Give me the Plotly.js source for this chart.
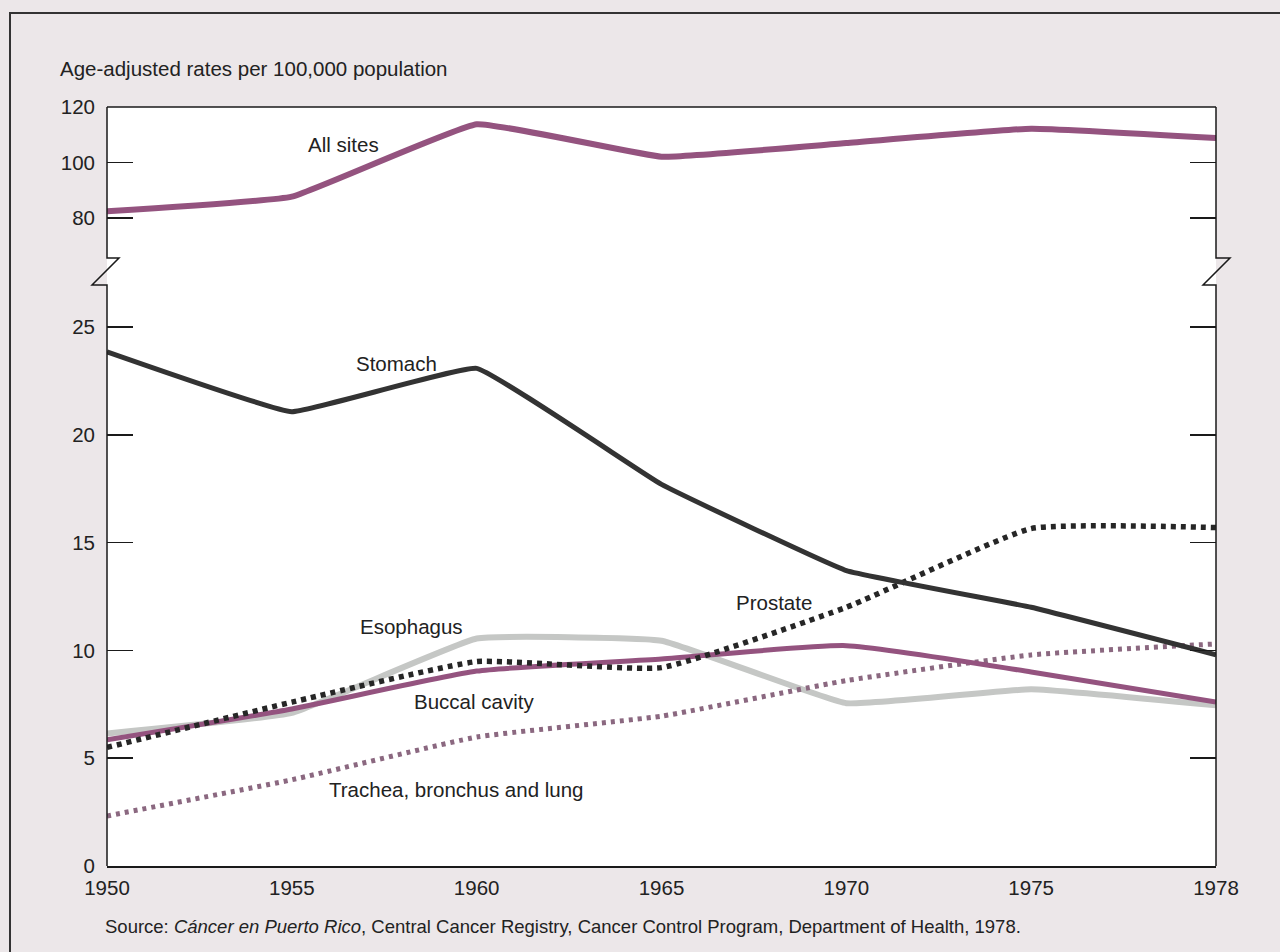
<!DOCTYPE html>
<html>
<head>
<meta charset="utf-8">
<script src="https://cdn.plot.ly/plotly-3.0.1.min.js"></script>
<style>html,body{margin:0;padding:0;background:#ece7e9;}#chart{width:1280px;height:952px;}</style>
</head>
<body>
<div id="chart"></div>
<script>
// ---- data ----
const years = ['1950', '1955', '1960', '1965', '1970', '1975', '1978'];
const allSites = [82.4, 87.7, 113.8, 102.1, 107.0, 112.2, 108.8];
const stomach = [23.85, 21.07, 23.08, 17.7, 13.7, 12.0, 9.8];
const prostate = [5.5, 7.6, 9.48, 9.2, 12.0, 15.65, 15.7];
const esophagus = [6.15, 7.1, 10.55, 10.45, 7.55, 8.2, 7.45];
const buccal = [5.85, 7.28, 9.04, 9.6, 10.22, 9.0, 7.6];
const trachea = [2.32, 4.0, 5.98, 6.95, 8.6, 9.79, 10.3];
const yTicksLow = [0, 5, 10, 15, 20, 25];
const yTicksHigh = [80, 100, 120];
const seriesLabels = ['All sites', 'Stomach', 'Esophagus', 'Prostate', 'Buccal cavity', 'Trachea, bronchus and lung'];

const MAUVE = '#94537f';
const FONT = '"Liberation Sans", Arial, Helvetica, sans-serif';

const traces = [
  {x: years, y: esophagus, yaxis: 'y', mode: 'lines', name: seriesLabels[2],
   line: {color: '#c5c7c5', width: 6, shape: 'spline', smoothing: 0.3}},
  {x: years, y: trachea, yaxis: 'y', mode: 'lines', name: seriesLabels[5],
   line: {color: '#8b6880', width: 5, dash: '4px,5px', shape: 'spline', smoothing: 0.4}},
  {x: years, y: buccal, yaxis: 'y', mode: 'lines', name: seriesLabels[4],
   line: {color: MAUVE, width: 5, shape: 'spline', smoothing: 0.5}},
  {x: years, y: prostate, yaxis: 'y', mode: 'lines', name: seriesLabels[3],
   line: {color: '#262626', width: 5.5, dash: '5px,5px', shape: 'spline', smoothing: 0.4}},
  {x: years, y: stomach, yaxis: 'y', mode: 'lines', name: seriesLabels[1],
   line: {color: '#333333', width: 5, shape: 'spline', smoothing: 0.25}},
  {x: years, y: allSites, yaxis: 'y2', mode: 'lines', name: seriesLabels[0],
   line: {color: MAUVE, width: 6, shape: 'spline', smoothing: 0.3}}
];

// pixel -> paper helpers for layout positions (plot area 107..1216 x, 107..866 y)
const px = v => (v - 107) / 1109;
const py = v => (866 - v) / 759;
const BREAK = py(272);

const frameLine = {color: '#1a1a1a', width: 1.5};
const shapes = [
  // top border
  {type: 'line', xref: 'paper', yref: 'paper', x0: 0, x1: 1, y0: 1, y1: 1, line: frameLine},
  // left border with break
  {type: 'path', xref: 'paper', yref: 'paper', line: frameLine,
   path: `M 0,0 L 0,${py(285)} L ${px(92)},${py(285)} L ${px(119)},${py(258)} L 0,${py(258)} L 0,1`},
  // right border with break
  {type: 'path', xref: 'paper', yref: 'paper', line: frameLine,
   path: `M 1,0 L 1,${py(285)} L ${px(1203)},${py(285)} L ${px(1230)},${py(258)} L 1,${py(258)} L 1,1`},
  // outer page frame
  {type: 'path', xref: 'paper', yref: 'paper', line: {color: '#333', width: 2},
   path: `M ${px(10)},${py(960)} L ${px(10)},${py(13)} L ${px(1290)},${py(13)}`}
];
// vertical grid lines at the inner years
years.slice(1, -1).forEach(yr => {
  shapes.push({type: 'line', xref: 'x', yref: 'paper', x0: yr, x1: yr, y0: 0, y1: 1,
               line: {color: '#1a1a1a', width: 1.2}, layer: 'below'});
});

const labelPos = [[343, 145], [396, 363], [411, 626], [774, 602], [474, 701], [456, 789]];
const annotations = seriesLabels.map((t, i) => ({
  text: t, xref: 'paper', yref: 'paper', x: px(labelPos[i][0]), y: py(labelPos[i][1]),
  xanchor: 'center', yanchor: 'middle', showarrow: false,
  font: {family: FONT, size: 20.5, color: '#222'}
}));
annotations.push({
  text: 'Source: <i>Cáncer en Puerto Rico</i>, Central Cancer Registry, Cancer Control Program, Department of Health, 1978.',
  xref: 'paper', yref: 'paper', x: px(103), y: py(926), xanchor: 'left', yanchor: 'middle',
  showarrow: false, font: {family: FONT, size: 18.5, color: '#222'}
});

const yCommon = {
  ticks: 'inside', ticklen: 26, tickwidth: 1.5, tickcolor: '#1a1a1a', mirror: 'ticks',
  showline: false, showgrid: false, zeroline: false, ticklabelstandoff: 11,
  tickfont: {family: FONT, size: 20.5, color: '#222'}, fixedrange: true
};

const layout = {
  width: 1280, height: 952,
  paper_bgcolor: '#ece7e9', plot_bgcolor: '#ffffff',
  margin: {l: 107, r: 64, t: 107, b: 86},
  showlegend: false,
  font: {family: FONT, color: '#222'},
  title: {text: 'Age-adjusted rates per 100,000 population', x: 60 / 1280, xanchor: 'left',
          xref: 'container', yref: 'container', y: 1 - 69 / 952, yanchor: 'middle',
          font: {family: FONT, size: 20.5, color: '#222'}},
  xaxis: {type: 'category', categoryorder: 'array', categoryarray: years, range: [0, 6],
          showgrid: false, zeroline: false, showline: true, linecolor: '#1a1a1a', linewidth: 1.5,
          ticks: '', ticklabelstandoff: 3, tickfont: {family: FONT, size: 20.5, color: '#222'},
          anchor: 'y', fixedrange: true},
  yaxis: Object.assign({}, yCommon, {domain: [0, BREAK], range: [0, (866 - 272) / 21.56],
          tickvals: yTicksLow, anchor: 'x'}),
  yaxis2: Object.assign({}, yCommon, {domain: [BREAK, 1], range: [120 - (272 - 107) / 2.775, 120],
          tickvals: yTicksHigh, anchor: 'x'}),
  shapes: shapes,
  annotations: annotations
};

Plotly.newPlot('chart', traces, layout, {displayModeBar: false, staticPlot: true});
</script>
</body>
</html>
